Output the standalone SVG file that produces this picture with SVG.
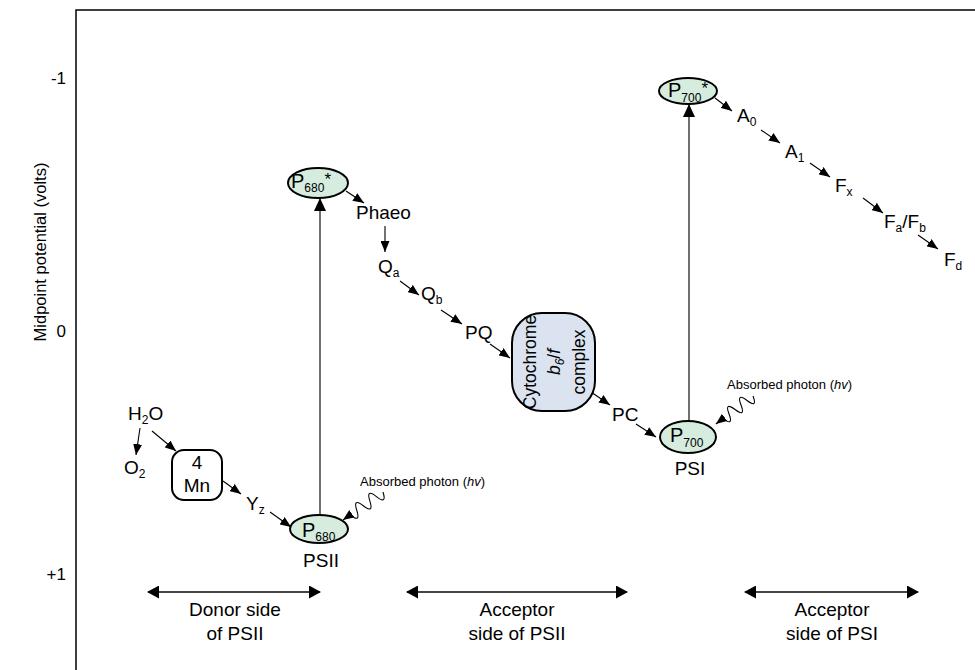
<svg xmlns="http://www.w3.org/2000/svg" width="975" height="670" viewBox="0 0 975 670">
<defs>
<style>
text{font-family:"Liberation Sans",Arial,sans-serif;fill:#000}
.lbl{font-size:19px}
.sub{font-size:12px}
.ax{font-size:17px}
.small{font-size:13px}
.star{font-size:17px}
.cyt{font-size:17.5px}
.bot{font-size:19px;text-anchor:middle}
.node{fill:#d5ecdf;stroke:#000;stroke-width:2}
.arr{stroke:#000;stroke-width:1.1;fill:none;marker-end:url(#ah)}
.vert{stroke:#333;stroke-width:1.4;fill:none;marker-end:url(#ahb)}
.wave{stroke:#000;stroke-width:1.1;fill:none;marker-end:url(#ah)}
.dbl{stroke:#444;stroke-width:2.2;fill:none;marker-end:url(#ahd);marker-start:url(#ahd)}
</style>
<marker id="ah" markerUnits="userSpaceOnUse" markerWidth="11" markerHeight="9" refX="11" refY="4.5" orient="auto"><path d="M0,0 L11,4.5 L0,9 z" fill="#000"/></marker>
<marker id="ahb" markerUnits="userSpaceOnUse" markerWidth="13" markerHeight="12" refX="13" refY="6" orient="auto"><path d="M0,0 L13,6 L0,12 z" fill="#000"/></marker>
<marker id="ahd" markerUnits="userSpaceOnUse" markerWidth="12" markerHeight="13" refX="11" refY="6.5" orient="auto-start-reverse"><path d="M0,0 L12,6.5 L0,13 z" fill="#000"/></marker>
</defs>
<rect x="0" y="0" width="975" height="670" fill="#fff"/>
<path d="M76,670 V10 H975" stroke="#000" stroke-width="1.5" fill="none"/>

<g id="axis">
<text class="ax" x="66" y="84" text-anchor="end">-1</text>
<text class="ax" x="66" y="337" text-anchor="end">0</text>
<text class="ax" x="66" y="580" text-anchor="end">+1</text>
<text font-size="16.5" transform="translate(46,252) rotate(-90)" text-anchor="middle">Midpoint potential (volts)</text>
</g>

<g id="connectors">
<line class="arr" x1="140" y1="428" x2="136" y2="455"/>
<line class="arr" x1="152" y1="431" x2="176" y2="451"/>
<line class="arr" x1="223" y1="481" x2="241" y2="494"/>
<line class="arr" x1="270" y1="512" x2="291" y2="527"/>
<line class="arr" x1="346" y1="191" x2="364" y2="203"/>
<line class="arr" x1="385" y1="226" x2="385" y2="252"/>
<line class="arr" x1="400" y1="281" x2="419" y2="295"/>
<line class="arr" x1="441" y1="310" x2="462" y2="324"/>
<line class="arr" x1="490" y1="344" x2="510" y2="358"/>
<line class="arr" x1="591" y1="392" x2="610" y2="405"/>
<line class="arr" x1="636" y1="424" x2="656" y2="437"/>
<line class="arr" x1="715" y1="98" x2="732" y2="111"/>
<line class="arr" x1="761" y1="130" x2="780" y2="143"/>
<line class="arr" x1="810" y1="163" x2="830" y2="177"/>
<line class="arr" x1="863" y1="198" x2="883" y2="213"/>
<line class="arr" x1="918" y1="235" x2="938" y2="249"/>
<line class="vert" x1="320" y1="515" x2="320" y2="198"/>
<line class="vert" x1="689" y1="421" x2="689" y2="104"/>
<path class="wave" transform="translate(383,492) rotate(145)" d="M0,0 q4,-13 8,0 t8,0 t8,0 t8,0 t8,0 l9,0"/>
<path class="wave" transform="translate(753,396) rotate(143)" d="M0,0 q3.75,-13 7.5,0 t7.5,0 t7.5,0 t7.5,0 t7.5,0 l9,0"/>
<line class="dbl" x1="148" y1="592" x2="320" y2="592"/>
<line class="dbl" x1="407" y1="592" x2="627" y2="592"/>
<line class="dbl" x1="745" y1="592" x2="918" y2="592"/>
</g>

<g id="photon-psii"><text class="small" x="360" y="486">Absorbed photon (<tspan font-style="italic">hv</tspan>)</text></g>
<g id="photon-psi"><text class="small" x="727" y="389">Absorbed photon (<tspan font-style="italic">hv</tspan>)</text></g>

<g id="h2o"><text class="lbl" x="128" y="420">H<tspan class="sub" dy="4">2</tspan><tspan dy="-4">O</tspan></text></g>
<g id="o2"><text class="lbl" x="124" y="474">O<tspan class="sub" dy="4">2</tspan></text></g>
<g id="mn">
<rect x="172" y="450" width="50" height="50" rx="12" fill="#fff" stroke="#000" stroke-width="2"/>
<text class="lbl" x="197" y="469" text-anchor="middle">4</text>
<text class="lbl" x="197" y="492" text-anchor="middle">Mn</text>
</g>
<g id="yz"><text class="lbl" x="246" y="510">Y<tspan class="sub" dy="4">z</tspan></text></g>

<g id="p680">
<ellipse class="node" cx="319" cy="529" rx="29" ry="14"/>
<text x="302" y="537"><tspan font-size="20">P</tspan><tspan class="sub" dy="4">680</tspan></text>
<text class="lbl" x="321" y="567" text-anchor="middle">PSII</text>
</g>
<g id="p680s">
<ellipse class="node" cx="318" cy="183" rx="30" ry="15"/>
<text x="291" y="188"><tspan font-size="20">P</tspan><tspan class="sub" dy="4">680</tspan><tspan class="star" dy="-7">*</tspan></text>
</g>
<g id="phaeo"><text class="lbl" x="356" y="219">Phaeo</text></g>
<g id="qa"><text class="lbl" x="378" y="273">Q<tspan class="sub" dy="4">a</tspan></text></g>
<g id="qb"><text class="lbl" x="421" y="300">Q<tspan class="sub" dy="4">b</tspan></text></g>
<g id="pq"><text class="lbl" x="465" y="339">PQ</text></g>
<g id="cyt">
<rect x="512" y="313" width="83" height="98" rx="30" fill="#dae3ef" stroke="#000" stroke-width="2"/>
<text class="cyt" transform="translate(536,362) rotate(-90)" text-anchor="middle">Cytochrome</text>
<text class="cyt" transform="translate(560,362) rotate(-90)" text-anchor="middle"><tspan font-style="italic">b</tspan><tspan class="sub" font-style="italic" dy="4">6</tspan><tspan dy="-4">/</tspan><tspan font-style="italic">f</tspan></text>
<text class="cyt" transform="translate(585,362) rotate(-90)" text-anchor="middle">complex</text>
</g>
<g id="pc"><text class="lbl" x="612" y="421">PC</text></g>
<g id="p700">
<ellipse class="node" cx="688" cy="437" rx="28" ry="16"/>
<text x="670" y="442"><tspan font-size="20">P</tspan><tspan class="sub" dy="5">700</tspan></text>
<text class="lbl" x="690" y="475" text-anchor="middle">PSI</text>
</g>
<g id="p700s">
<ellipse class="node" cx="688" cy="91" rx="29" ry="13"/>
<text x="668" y="97"><tspan font-size="20">P</tspan><tspan class="sub" dy="5">700</tspan><tspan class="star" dy="-8">*</tspan></text>
</g>
<g id="a0"><text class="lbl" x="737" y="122">A<tspan class="sub" dy="4">0</tspan></text></g>
<g id="a1"><text class="lbl" x="785" y="158">A<tspan class="sub" dy="4">1</tspan></text></g>
<g id="fx"><text class="lbl" x="835" y="192">F<tspan class="sub" dy="4">x</tspan></text></g>
<g id="fafb"><text class="lbl" x="884" y="228">F<tspan class="sub" dy="4">a</tspan><tspan dy="-4">/F</tspan><tspan class="sub" dy="4">b</tspan></text></g>
<g id="fd"><text class="lbl" x="944" y="266">F<tspan class="sub" dy="4">d</tspan></text></g>

<g id="donor"><text class="bot" x="235" y="616">Donor side</text><text class="bot" x="235" y="640">of PSII</text></g>
<g id="acc2"><text class="bot" x="517" y="616">Acceptor</text><text class="bot" x="517" y="640">side of PSII</text></g>
<g id="acc1"><text class="bot" x="832" y="616">Acceptor</text><text class="bot" x="832" y="640">side of PSI</text></g>
</svg>
